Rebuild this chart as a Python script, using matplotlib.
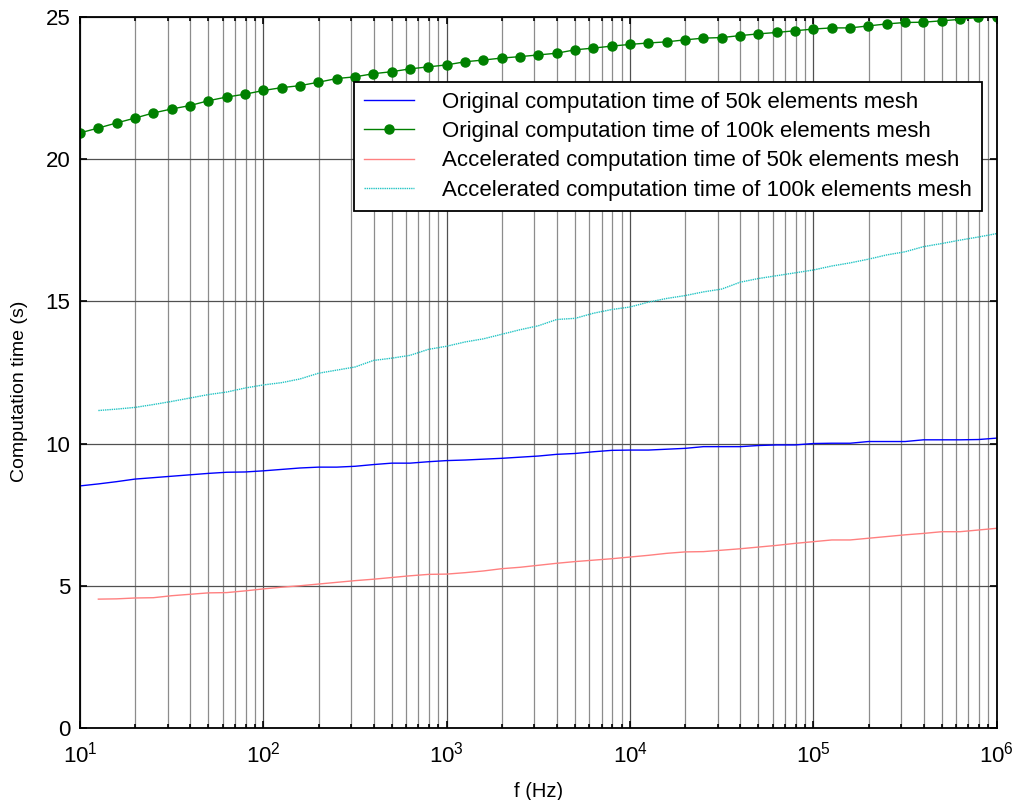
import numpy as np
import matplotlib
matplotlib.use('Agg')
import matplotlib.pyplot as plt
from matplotlib.ticker import LogLocator, NullFormatter, LogFormatterMathtext

plt.rcParams['font.family'] = ['Liberation Sans', 'DejaVu Sans']
plt.rcParams['mathtext.fontset'] = 'custom'
plt.rcParams['mathtext.rm'] = 'Liberation Sans'
plt.rcParams['mathtext.it'] = 'Liberation Sans'

# frequency samples: 0.1 decade steps from 10 Hz to 1 MHz
log_f = [1.0 + 0.1 * i for i in range(51)]

orig_100k = [20.92, 21.09, 21.27, 21.44, 21.62, 21.76, 21.88, 22.05, 22.18, 22.28,
             22.41, 22.51, 22.58, 22.70, 22.83, 22.89, 23.00, 23.07, 23.17, 23.24,
             23.31, 23.42, 23.48, 23.55, 23.60, 23.66, 23.72, 23.84, 23.90, 23.97,
             24.03, 24.08, 24.12, 24.19, 24.25, 24.27, 24.34, 24.40, 24.45, 24.51,
             24.57, 24.61, 24.61, 24.68, 24.75, 24.80, 24.81, 24.86, 24.91, 24.98,
             25.00]

orig_50k = [8.51, 8.58, 8.66, 8.75, 8.80, 8.85, 8.90, 8.95, 8.99, 9.00,
            9.04, 9.09, 9.14, 9.17, 9.17, 9.20, 9.26, 9.31, 9.31, 9.36,
            9.40, 9.42, 9.45, 9.48, 9.52, 9.56, 9.62, 9.65, 9.71, 9.76,
            9.77, 9.77, 9.80, 9.83, 9.89, 9.89, 9.89, 9.93, 9.95, 9.95,
            10.00, 10.01, 10.01, 10.07, 10.07, 10.07, 10.13, 10.13, 10.13, 10.14,
            10.19]

# accelerated series start one step later (index 1)
acc_50k = [4.53, 4.54, 4.57, 4.58, 4.65, 4.70, 4.75, 4.76, 4.82,
           4.89, 4.95, 5.00, 5.06, 5.12, 5.18, 5.23, 5.29, 5.35, 5.40,
           5.41, 5.46, 5.52, 5.60, 5.65, 5.72, 5.79, 5.85, 5.90, 5.95,
           6.01, 6.07, 6.14, 6.19, 6.20, 6.25, 6.30, 6.36, 6.42, 6.49,
           6.55, 6.61, 6.61, 6.67, 6.73, 6.79, 6.84, 6.90, 6.90, 6.96,
           7.02]

acc_100k = [11.16, 11.21, 11.27, 11.37, 11.48, 11.60, 11.72, 11.81, 11.95,
            12.06, 12.14, 12.27, 12.47, 12.58, 12.69, 12.92, 13.00, 13.10, 13.31,
            13.42, 13.57, 13.68, 13.84, 14.00, 14.14, 14.36, 14.40, 14.58, 14.71,
            14.80, 14.97, 15.10, 15.20, 15.33, 15.43, 15.67, 15.80, 15.90, 16.00,
            16.10, 16.24, 16.35, 16.48, 16.63, 16.74, 16.92, 17.03, 17.15, 17.26,
            17.38]

labels = ['Original computation time of 50k elements mesh',
          'Original computation time of 100k elements mesh',
          'Accelerated computation time of 50k elements mesh',
          'Accelerated computation time of 100k elements mesh']

f = 10 ** np.array(log_f)

fig = plt.figure(figsize=(10.13, 8.0), dpi=100)
ax = fig.add_axes([0.079, 0.09, 0.905, 0.889])

ax.plot(f, orig_50k, color='#0000ff', lw=1.0, label=labels[0])
ax.plot(f, orig_100k, color='#008000', lw=1.0, marker='o', ms=6.5,
        markerfacecolor='#008000', markeredgecolor='#008000', label=labels[1])
ax.plot(f[1:], acc_50k, color='#ff8080', lw=1.0, label=labels[2])
ax.plot(f[1:], acc_100k, color='#22c4c4', lw=1.0, ls=(0, (1, 0.6)), label=labels[3])

ax.set_xscale('log')
ax.set_xlim(10, 1e6)
ax.set_ylim(0, 25)
ax.set_yticks([0, 5, 10, 15, 20, 25])
ax.xaxis.set_major_locator(LogLocator(base=10, numticks=10))
ax.xaxis.set_minor_locator(LogLocator(base=10, subs=np.arange(2, 10), numticks=20))
ax.xaxis.set_minor_formatter(NullFormatter())
ax.xaxis.set_major_formatter(LogFormatterMathtext())

ax.grid(True, which='major', axis='both', color='#505050', lw=0.9)
ax.grid(True, which='minor', axis='x', color='#8c8c8c', lw=0.9)
ax.set_axisbelow(True)

ax.tick_params(which='both', direction='in', top=True, right=True, labelsize=16, width=1.2)
ax.tick_params(which='major', length=5)
ax.tick_params(which='minor', length=3)
ax.tick_params(axis='x', which='major', pad=10)
ax.tick_params(axis='y', which='major', pad=7)
for s in ax.spines.values():
    s.set_linewidth(1.3)
    s.set_color('black')

ax.set_xlabel('f (Hz)', fontsize=14.5, labelpad=10)
ax.set_ylabel('Computation time (s)', fontsize=14)
ax.yaxis.set_label_coords(-0.057, 0.474)

leg = ax.legend(loc='upper right', bbox_to_anchor=(0.984, 0.909), borderaxespad=0,
                fontsize=16, fancybox=False, framealpha=1, edgecolor='black',
                handlelength=2.25, handletextpad=1.25, labelspacing=0.38, borderpad=0.45)
leg.get_frame().set_linewidth(1.3)

fig.savefig('out.png', dpi=100)
